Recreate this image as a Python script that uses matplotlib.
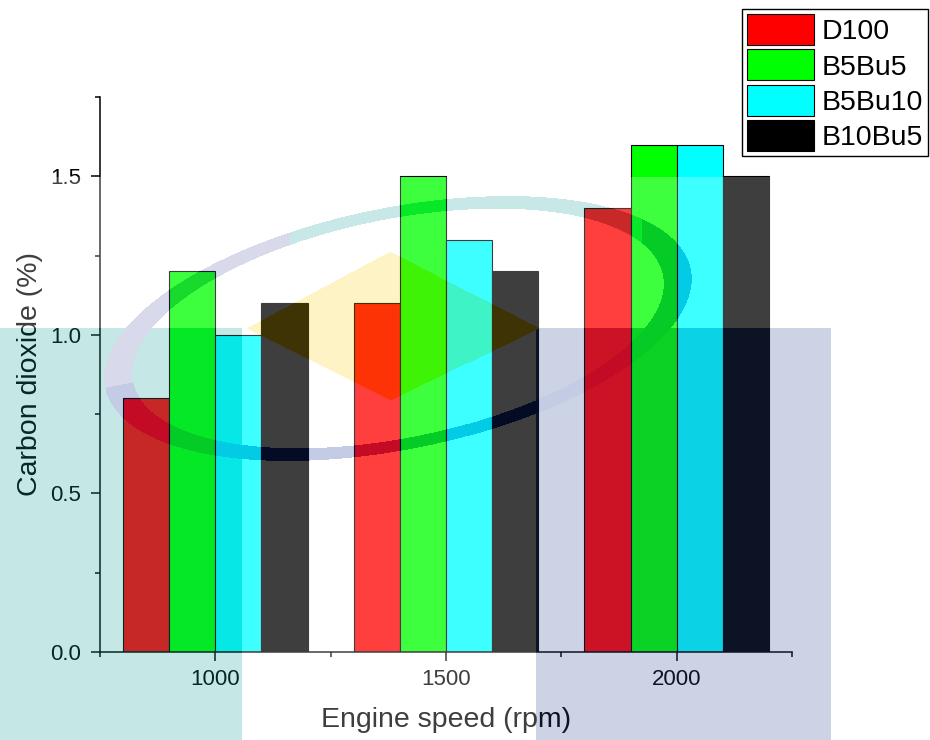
import matplotlib
matplotlib.use("Agg")
import matplotlib.pyplot as plt
from matplotlib.ticker import MultipleLocator, FormatStrFormatter
import numpy as np

plt.rcParams['font.family'] = ['Liberation Sans', 'DejaVu Sans']

# data
speeds = [1000, 1500, 2000]
fuels = ['D100', 'B5Bu5', 'B5Bu10', 'B10Bu5']
d100 = [0.8, 1.1, 1.4]
b5bu5 = [1.2, 1.5, 1.6]
b5bu10 = [1.0, 1.3, 1.6]
b10bu5 = [1.1, 1.2, 1.5]
series = [d100, b5bu5, b5bu10, b10bu5]
colors = ['#FF0000', '#00FF00', '#00FFFF', '#000000']

W, H = 930, 740
fig = plt.figure(figsize=(W / 100, H / 100), dpi=100)
ax = fig.add_axes([100 / W, 88 / H, 692 / W, 555 / H])

bw = 100
x = np.array(speeds, dtype=float)
for i, vals in enumerate(series):
    ax.bar(x + (i - 1.5) * bw, vals, width=bw, color=colors[i],
           edgecolor='black', linewidth=0.8, label=fuels[i])

ax.set_xlim(750, 2250)
ax.set_ylim(0, 1.75)
ax.set_xticks(speeds)
ax.xaxis.set_minor_locator(MultipleLocator(250))
ax.yaxis.set_major_locator(MultipleLocator(0.5))
ax.yaxis.set_minor_locator(MultipleLocator(0.25))
ax.yaxis.set_major_formatter(FormatStrFormatter('%.1f'))

for s in ['top', 'right']:
    ax.spines[s].set_visible(False)
for s in ['left', 'bottom']:
    ax.spines[s].set_linewidth(1.1)
ax.tick_params(which='major', direction='out', length=6.5, width=1.1, labelsize=16)
ax.tick_params(axis='y', which='major', pad=7)
ax.tick_params(axis='x', which='major', pad=5.5)
ax.tick_params(which='minor', direction='out', length=3.5, width=1.1)

ax.set_xlabel('Engine speed (rpm)', fontsize=20.5)
ax.set_ylabel('Carbon dioxide (%)', fontsize=20.5)
ax.xaxis.set_label_coords(0.5, -0.099)
ax.yaxis.set_label_coords(-0.082, 0.5)

leg = ax.legend(loc='upper right', bbox_to_anchor=(928 / W, 1 - 9 / H),
                bbox_transform=fig.transFigure, fontsize=20.5,
                handlelength=2.35, handleheight=1.3, handletextpad=0.25,
                labelspacing=0.15, borderpad=0.18, borderaxespad=0,
                fancybox=False, framealpha=1, edgecolor='black')
leg.get_frame().set_linewidth(1.0)

# watermark overlay seen through the scanned figure
yy, xx = np.mgrid[0:H, 0:W].astype(float)
rgb = np.ones((H, W, 3))
alpha = np.where(yy >= 177, 0.25, 0.0)

teal = (xx < 242) & (yy >= 328)
rgb[teal] = np.array([24, 164, 156]) / 255
blue = (xx >= 535) & (xx < 830) & (yy >= 328)
rgb[blue] = np.array([48, 80, 152]) / 255

# yellow diamond
dx = np.where(xx < 390, (xx - 390) / 144, (xx - 390) / 148)
dy = np.where(yy < 328, (yy - 328) / 77, (yy - 328) / 72)
diamond = (np.abs(dx) + np.abs(dy)) < 1
rgb[diamond] = np.array([252, 208, 24]) / 255

# tilted ellipse ring
th = np.deg2rad(-11.5)
cx, cy, a, b = 397, 328, 284, 115
u = ((xx - cx) * np.cos(th) + (yy - cy) * np.sin(th)) / a
v = (-(xx - cx) * np.sin(th) + (yy - cy) * np.cos(th)) / b
r = np.sqrt(u ** 2 + v ** 2)
ring = np.abs(r - 1) < 0.05
upper = v <= 0
lav = ring & upper & (xx < 290)
tealline = ring & upper & (xx >= 290) & (xx <= 640)
navy = ring & ~lav & ~tealline
rgb[navy] = np.array([20, 45, 150]) / 255
rgb[lav] = np.array([100, 108, 180]) / 255
rgb[tealline] = np.array([36, 164, 164]) / 255

rgba = np.dstack([rgb, alpha])
ov = fig.add_axes([0, 0, 1, 1], zorder=10)
ov.imshow(rgba, extent=(0, W, H, 0), interpolation='nearest', aspect='auto')
ov.set_xlim(0, W)
ov.set_ylim(H, 0)
ov.axis('off')
ov.patch.set_alpha(0)

fig.savefig('out.png', dpi=100)
